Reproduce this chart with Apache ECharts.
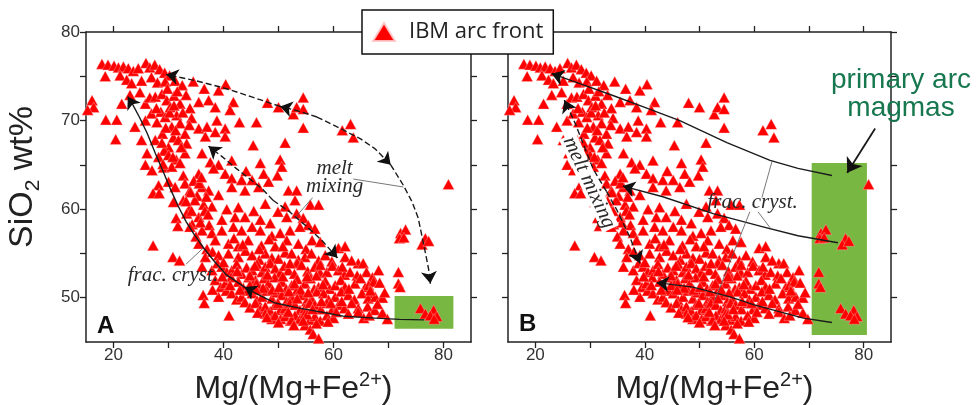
<!DOCTYPE html>
<html><head><meta charset="utf-8">
<script src="https://cdn.jsdelivr.net/npm/echarts@6/dist/echarts.min.js"></script>
<style>html,body{margin:0;padding:0;background:#fff}#c{width:976px;height:405px}</style>
</head><body><div id="c"></div>
<script>
const seriesName = 'IBM arc front';
const xAxisTitle = '{a|Mg/(Mg+Fe}{p|2+}{a|)}';
const yAxisTitle = '{a|SiO}{s|2}{a| wt%}';
const xTicks = [20, 30, 40, 50, 60, 70, 80];
const xTickLabels = [20, 40, 60, 80];
const yTicks = [50, 55, 60, 65, 70, 75, 80];
const yTickLabels = [50, 60, 70, 80];

// [Mg/(Mg+Fe2+), SiO2 wt%]
const ibmArcFront = [
[17.9,76.4],[19.0,76.3],[20.1,76.2],[20.9,76.0],[21.8,76.1],[22.7,75.9],[23.6,75.6],[24.5,75.9],[25.9,76.5],[26.6,76.0],[27.5,76.3],[28.4,75.8],[29.3,75.4],[30.2,75.1],
[18.5,75.0],[21.2,75.1],[22.4,74.6],[23.3,74.2],[25.1,74.5],[26.9,74.9],[28.0,74.3],[29.4,74.4],[31.2,74.5],[32.5,74.0],[34.5,74.4],
[16.1,72.3],[16.4,71.5],[15.3,71.2],[21.5,71.9],[23.0,72.9],[24.8,73.2],[25.8,71.9],[26.6,72.6],[27.6,72.7],[28.8,73.0],[29.7,72.3],[30.3,71.5],[31.0,72.8],[32.1,71.9],[33.2,72.9],[33.9,71.4],[35.5,72.1],[37.3,72.3],[39.1,73.4],[40.4,74.1],[41.8,72.1],[38.5,71.5],[36.5,73.6],
[18.6,70.1],[20.6,70.1],[20.4,67.9],[23.9,69.3],[25.8,70.0],[26.9,70.8],[27.9,69.8],[28.6,71.0],[29.4,70.4],[30.6,69.3],[31.5,70.6],[32.1,69.7],[33.0,68.5],[34.2,70.3],[35.5,69.1],[37.0,69.3],[38.8,70.0],[40.3,69.1],[42.9,69.8],[46.0,69.8],[50.0,71.5],[52.7,70.7],[54.5,72.6],[53.3,71.5],[54.5,71.3],[54.5,69.2],[63.1,69.6],[61.6,68.9],[63.6,68.1],[41.2,71.2],[48.0,72.0],
[25.1,67.8],[27.6,67.8],[28.9,68.5],[30.0,67.0],[30.9,68.1],[31.8,67.8],[33.3,67.4],[36.7,68.2],[38.5,68.7],[40.3,68.2],[45.4,67.2],[51.2,67.5],[29.2,66.6],
[26.1,66.3],[28.2,65.9],[30.0,66.1],[31.4,65.6],[33.0,66.3],[36.1,66.3],[37.6,65.3],[39.1,65.0],[41.5,65.5],[46.7,65.2],[50.3,65.6],[50.6,64.8],
[25.8,65.0],[27.0,64.4],[29.1,64.7],[30.6,64.8],[32.7,63.8],[35.5,64.0],[38.2,64.6],[40.3,64.0],[41.5,63.5],[43.3,63.3],[45.2,63.3],[47.3,64.0],[48.2,63.1],[49.8,63.8],[51.8,62.1],[53.3,62.1],[44.1,64.3],
[30.0,63.1],[28.2,62.7],[31.2,62.5],[33.0,62.9],[33.9,62.1],[34.6,63.2],[36.1,62.5],[37.3,62.1],[39.1,61.6],[41.5,62.5],[43.9,62.1],[46.4,62.5],[35.2,61.5],
[27.2,61.8],[28.3,61.8],[30.9,60.8],[32.7,61.0],[34.8,61.0],[36.4,60.5],[37.9,60.3],[42.7,60.2],[45.5,59.8],[47.6,60.6],[51.2,60.3],[53.0,61.0],[55.8,60.5],[57.3,60.5],[33.8,60.0],
[31.4,59.0],[33.3,59.5],[35.5,59.1],[37.4,58.2],[39.7,58.8],[42.1,59.1],[43.9,59.1],[46.7,58.8],[48.5,58.4],[51.5,59.1],[53.3,59.5],[54.5,59.0],[34.3,58.3],[36.6,59.8],[40.6,60.0],[49.9,59.7],[55.4,58.2],[31.7,58.1],
[33.9,58.0],[36.1,57.6],[37.9,57.3],[39.7,57.6],[41.8,58.0],[43.3,57.6],[45.2,58.0],[46.7,57.6],[48.8,57.0],[50.3,57.3],[52.1,57.6],[53.9,58.0],[56.6,57.8],[35.0,56.9],
[27.2,55.9],[35.5,56.1],[37.0,55.5],[38.5,56.5],[40.9,56.1],[42.7,55.8],[44.5,56.5],[46.9,55.9],[48.3,56.6],[49.4,55.8],[51.5,56.5],[53.6,56.1],[55.0,55.5],[56.1,56.5],[57.6,56.3],[60.9,55.6],[62.1,55.8],
[72.2,57.3],[73.1,57.7],[72.0,56.7],[72.8,56.8],[76.7,56.7],[76.1,56.0],[77.3,56.4],
[30.8,54.6],[32.0,54.2],[36.7,54.6],[38.0,55.2],[39.1,54.8],[40.9,55.0],[42.7,54.6],[44.0,55.3],[45.2,54.8],[46.5,54.3],[47.6,55.0],[48.8,54.5],[50.0,54.4],[51.2,55.1],[52.4,55.0],[53.6,54.3],[54.8,54.6],[56.0,55.0],[57.3,54.2],[58.5,54.8],[59.7,54.1],[62.1,54.6],[64.5,53.9],[65.4,53.9],[63.3,54.2],
[36.1,53.5],[37.9,53.1],[38.9,53.9],[39.7,53.5],[40.6,52.9],[41.5,53.1],[42.4,53.8],[43.3,52.7],[44.2,53.4],[45.2,53.1],[46.1,53.8],[47.0,52.9],[47.6,53.5],[48.5,53.9],[49.4,53.3],[50.3,52.8],[51.1,53.6],[51.8,53.1],[52.9,52.7],[53.4,53.9],[54.2,53.7],[55.3,53.0],[56.6,53.5],[57.6,52.8],[58.8,52.9],[59.8,53.6],[60.9,53.1],[62.0,52.6],[63.0,52.9],[64.3,52.5],[66.0,52.9],[67.1,52.3],[68.2,53.1],[71.8,52.9],
[38.5,52.0],[39.5,51.2],[40.3,51.6],[41.4,52.3],[42.7,51.8],[43.6,51.1],[44.6,52.3],[45.8,52.0],[46.6,51.2],[47.4,52.2],[48.2,51.6],[49.3,52.3],[50.6,51.8],[51.4,51.0],[52.4,51.4],[53.4,52.1],[54.8,51.6],[55.8,52.2],[56.5,51.0],[57.3,51.2],[58.5,51.9],[59.3,51.0],[60.3,51.4],[61.3,52.0],[62.1,51.2],[63.9,51.6],[65.8,51.2],[66.4,51.4],[67.3,51.8],[68.4,51.7],[71.8,51.6],[72.1,51.2],[67.0,50.5],
[36.3,50.3],[36.5,49.4],[39.1,50.1],[40.5,50.8],[41.5,50.5],[42.4,49.8],[43.3,50.1],[44.3,50.8],[45.2,50.5],[46.1,49.7],[47.0,50.1],[47.9,50.8],[48.8,49.9],[49.7,50.6],[50.6,50.3],[51.5,49.6],[52.4,50.1],[53.3,50.8],[54.2,50.3],[55.1,49.6],[56.0,49.9],[57.0,50.7],[58.2,50.5],[59.1,49.8],[60.3,50.1],[61.4,50.7],[62.7,50.3],[63.8,49.8],[65.2,50.5],[66.3,49.9],[67.6,50.1],[68.9,50.0],[69.3,50.6],
[43.9,49.5],[44.8,48.9],[45.8,49.4],[46.7,48.7],[47.6,49.0],[48.5,48.5],[49.4,49.2],[50.3,48.6],[51.2,48.8],[52.1,49.4],[53.0,49.2],[53.9,48.6],[54.8,48.8],[55.7,49.4],[56.6,49.2],[57.7,48.7],[58.8,49.4],[59.8,48.7],[60.9,49.2],[62.0,48.8],[63.3,49.4],[64.5,48.8],[66.2,49.0],[67.5,48.6],[68.9,48.3],
[41.0,48.0],[47.6,48.2],[48.8,47.6],[49.4,48.0],[50.4,47.6],[51.2,47.9],[52.2,47.4],[53.0,48.0],[53.9,47.6],[54.8,48.2],[55.7,47.5],[56.6,47.9],[57.6,47.4],[58.8,48.0],[60.0,47.7],[62.7,48.2],[64.5,48.4],[65.5,47.7],[66.5,48.0],[69.8,47.6],[52.4,47.5],
[54.8,46.9],[55.8,46.4],[56.3,45.9],[57.3,45.4],
[75.8,48.8],[76.7,48.2],[78.2,48.6],[77.6,48.0],[78.8,47.9],[78.3,47.6],
[80.9,62.8],
[29.8,73.6],[31.6,73.3],[30.2,70.9],[32.6,70.9],[29.5,69.2],[31.3,68.9],[32.3,67.0],[30.8,65.9],[32.1,65.2],[28.8,67.5],[31.0,71.7],[27.8,71.4],[29.0,65.1],[33.8,69.5],
[34.0,61.9],[35.6,62.9],[36.9,61.4],[34.2,59.8],[35.8,58.5],[37.2,59.4],[36.0,63.6],[33.2,60.9],
[44.8,52.5],[46.0,51.6],[47.2,51.1],[48.9,50.9],[50.1,51.2],[51.9,50.7],[52.9,51.6],[54.0,50.9],[55.4,50.6],[56.9,52.5],[44.8,51.4],[43.0,50.9],[45.9,50.9],[49.9,49.4],[51.8,48.4],[53.4,49.9],[55.2,48.1],[56.2,48.7],[57.8,49.6],[59.5,49.4],[61.5,49.6],[62.8,51.0],[58.1,51.5],[46.2,48.3],[47.9,47.8],[50.0,47.2],[52.8,46.9],[54.5,47.4],[56.9,47.1],[59.0,47.3],[60.5,48.4],[39.8,52.4],[41.2,51.4],[38.0,50.9],[42.5,53.0],[45.7,53.6],[48.0,52.6],[50.8,52.4],[52.1,53.9],[55.2,52.4],[57.6,53.7],[61.6,53.5],[64.9,52.2],[66.7,50.8],[68.0,49.3],[46.5,55.5],[50.8,55.8],[43.5,56.0],[40.0,54.0],[41.9,56.7]
];

// green "primary arc magma" fields [xMin, yMin, xMax, yMax]
const primaryFieldA = [71.1, 46.5, 81.8, 50.2];
const primaryFieldB = [70.5, 45.8, 80.6, 65.2];

// panel A annotation paths (data coords)
const fracCrystA = [
  [[76.5,47.5],[72,47.55],[67.6,47.7],[62,47.9],[58.5,48.3],[54,48.8],[49.4,49.4],[46.5,50.3],[43.8,51.2]],
  [[43.8,51.2],[40.5,52.6],[38.2,54.2],[36.3,55.7],[34.6,57.2],[33.2,58.6],[31.8,60.3],[30.4,62.2],[29.2,64.0],[27.6,66.3],[26.1,68.6],[24.7,70.4],[23.5,71.8],[22.6,72.7]]
];
const meltMixingA = [
  [[57,70.4],[53.5,71.1],[50.3,71.6]],
  [[50.3,71.6],[45,72.7],[40,73.7],[35,74.5],[29.6,75.2]],
  [[57,70.4],[61.6,69.0],[65,67.9],[67.6,66.8],[70.4,65.0]],
  [[70.4,65.0],[72.7,62.7],[74.3,60.8],[75.4,59.0],[76.7,55.1],[77.3,53.2],[77.6,51.6]],
  [[49,61],[47.2,62.2],[44.8,63.4],[42.3,64.6],[39.8,65.9],[37.3,67.1]],
  [[49,61],[52,59.7],[55.4,57.9],[58,56.4],[60.7,54.5]]
];
const leadersA = [
  [[63.6,63.4],[72.7,62.5]],
  [[56.2,61.3],[53.1,59.1]],
  [[33.2,53.8],[36.3,55.6]]
];
// panel B annotation paths
const fracCrystB = [
  [[74.2,63.8],[68,64.6],[62.9,65.5],[55,67.5],[46.4,70.0],[40,71.5],[34.3,72.8],[28,74.2],[23.0,75.3]],
  [[75.3,56.2],[68,57.0],[61.6,58.0],[52.5,59.5],[43.3,61.4],[36.0,62.6]],
  [[74.2,47.2],[69,47.7],[64.7,48.4],[60,49.2],[55.6,50.1],[48.8,51.2],[42.2,51.7]]
];
const meltMixingB = [
  [[33,62],[30.5,64.6],[28.8,67.3],[27.2,69.8],[25.3,72.3]],
  [[33,62],[34.9,59.9],[37.3,56.8],[39.1,53.9]]
];
const leadersB = [
  [[63.3,65.5],[61.4,61.3]],
  [[60.7,59.7],[62.9,57.9]],
  [[59.2,59.7],[52.8,49.7]]
];
const primaryArrowB = [[[82.1,69.1],[77.0,64.1]]];

const labelsA = [
  {text:'melt\nmixing', at:[60.2,63.6], rot:0, bg:false},
  {text:'frac. cryst.', at:[30.8,52.55], rot:0, bg:false}
];
const labelsB = [
  {text:'frac. cryst.', at:[59.7,60.7], rot:0, bg:false},
  {text:'melt mixing', at:[29.8,63.0], rot:-65, bg:true}
];

const AX = '#222';
function xAx(grid, pos, showLabel, showName) {
  return {
    type:'value', gridIndex:grid, position:pos, min:15, max:85,
    axisLine:{show:true, onZero:false, lineStyle:{color:AX, width:1.5}},
    axisTick:{show:true, length:6, customValues:xTicks, lineStyle:{color:AX, width:1.3}},
    axisLabel:{show:showLabel, customValues:xTickLabels, fontSize:17, color:'#333', fontFamily:'Liberation Sans', margin:5},
    splitLine:{show:false},
    name: showName ? xAxisTitle : '', nameLocation:'middle', nameGap:24,
    nameTextStyle:{padding:[0,0,0,30], rich:{
      a:{fontSize:32, fontFamily:'Liberation Sans', color:'#222', lineHeight:40, verticalAlign:'middle'},
      p:{fontSize:20, fontFamily:'Liberation Sans', color:'#222', lineHeight:20, verticalAlign:'top', padding:[2,0,0,0]}
    }}
  };
}
function yAx(grid, pos, showLabel, showName) {
  return {
    type:'value', gridIndex:grid, position:pos, min:45, max:80,
    axisLine:{show:true, onZero:false, lineStyle:{color:AX, width:1.5}},
    axisTick:{show:true, length:6, customValues:yTicks, lineStyle:{color:AX, width:1.3}},
    axisLabel:{show:showLabel, customValues:yTickLabels, fontSize:17, color:'#333', fontFamily:'Liberation Sans', margin:6},
    splitLine:{show:false},
    name: showName ? yAxisTitle : '', nameLocation:'middle', nameRotate:90, nameGap:42,
    nameTextStyle:{padding:[0,0,0,20], rich:{
      a:{fontSize:34, fontFamily:'Liberation Sans', color:'#222', lineHeight:42, verticalAlign:'middle'},
      s:{fontSize:21, fontFamily:'Liberation Sans', color:'#222', lineHeight:21, verticalAlign:'bottom'}
    }}
  };
}
function pathSeries(xi, yi, paths, opts) {
  return {
    type:'lines', coordinateSystem:'cartesian2d', xAxisIndex:xi, yAxisIndex:yi,
    polyline:true, silent:true, z:6,
    lineStyle:{color:opts.color || '#1b1b1b', width:opts.width || 1.4, type:opts.dashed ? [6,3] : 'solid', opacity:1},
    data: paths.map(c => ({coords:c}))
  };
}
// arrowhead at the end of each path, drawn on a tiny final piece of its last segment
function headSeries(xi, yi, paths, size) {
  return {
    type:'lines', coordinateSystem:'cartesian2d', xAxisIndex:xi, yAxisIndex:yi,
    polyline:false, silent:true, z:7,
    symbol:['none','arrow'], symbolSize:size || 12,
    lineStyle:{color:'#111', width:1.2, opacity:1, curveness:0},
    data: paths.map(c => {
      const e = c[c.length-1], s = c[c.length-2];
      const t = 0.08;
      return {coords:[[e[0]-(e[0]-s[0])*t, e[1]-(e[1]-s[1])*t], e]};
    })
  };
}
function fieldSeries(xi, yi, box) {
  return {
    type:'custom', xAxisIndex:xi, yAxisIndex:yi, silent:true, z:1,
    data:[box], dimensions:['x1','y1','x2','y2'], encode:{x:[0,2], y:[1,3]},
    renderItem:(params, api) => {
      const p1 = api.coord([api.value(0), api.value(3)]);
      const p2 = api.coord([api.value(2), api.value(1)]);
      return {type:'rect', shape:{x:p1[0], y:p1[1], width:p2[0]-p1[0], height:p2[1]-p1[1]}, style:{fill:'#79b743'}};
    }
  };
}
function scatterSeries(xi, yi) {
  return {
    name:seriesName, type:'scatter', xAxisIndex:xi, yAxisIndex:yi, z:3,
    symbol:'triangle', symbolSize:[11.5,10.5],
    itemStyle:{color:'#ff0000', borderColor:'rgba(255,200,200,0.9)', borderWidth:0.4, opacity:1},
    data: ibmArcFront
  };
}

const chart = echarts.init(document.getElementById('c'), null, {renderer:'canvas'});
chart.setOption({
  backgroundColor:'#fff',
  animation:false,
  grid:[
    {left:86, top:32, width:385, height:310, outerBoundsMode:'none'},
    {left:508, top:32, width:383, height:310, outerBoundsMode:'none'}
  ],
  xAxis:[ xAx(0,'bottom',true,true), xAx(0,'top',false,false), xAx(1,'bottom',true,true), xAx(1,'top',false,false) ],
  yAxis:[ yAx(0,'left',true,true), yAx(0,'right',false,false), yAx(1,'left',false,false), yAx(1,'right',false,false) ],
  legend:{
    left:362, top:10, data:[seriesName], icon:'triangle', itemWidth:22, itemHeight:18,
    padding:[11,10,11,10], backgroundColor:'#fff', borderColor:'#111', borderWidth:1.5, borderRadius:0,
    selectedMode:false, z:10,
    textStyle:{fontFamily:'Open Sans', fontSize:22, color:'#222', padding:[0,0,0,9]}
  },
  series:[
    fieldSeries(0,0,primaryFieldA),
    fieldSeries(2,2,primaryFieldB),
    scatterSeries(0,0),
    scatterSeries(2,2),
    pathSeries(0,0,fracCrystA,{}),
    headSeries(0,0,fracCrystA),
    pathSeries(0,0,meltMixingA,{dashed:true}),
    headSeries(0,0,meltMixingA),
    pathSeries(0,0,leadersA,{width:0.8, color:'#555'}),
    pathSeries(2,2,fracCrystB,{}),
    headSeries(2,2,fracCrystB),
    pathSeries(2,2,meltMixingB,{dashed:true}),
    headSeries(2,2,meltMixingB),
    pathSeries(2,2,leadersB,{width:0.8, color:'#555'}),
    pathSeries(2,2,primaryArrowB,{width:1.8}),
    headSeries(2,2,primaryArrowB,14)
  ]
});

function annot(gridIndex, list) {
  return list.map(l => {
    const p = chart.convertToPixel({gridIndex:gridIndex}, l.at);
    const style = {text:l.text, fill:'#2a2a2a', font:'italic 21px "Liberation Serif", "DejaVu Serif", serif',
        textAlign:'center', textVerticalAlign:'middle', lineHeight:18};
    if (l.bg) { style.backgroundColor = '#fff'; style.padding = [0,2]; }
    return {type:'text', x:p[0], y:p[1], rotation:l.rot*Math.PI/180, z:20, silent:true, style:style};
  });
}
chart.setOption({
  graphic: [
    ...annot(0, labelsA),
    ...annot(1, labelsB),
    {type:'text', x:97, y:326, z:20, silent:true, style:{text:'A', fill:'#111', font:'bold 24px "Liberation Sans", Arial, sans-serif', textAlign:'left', textVerticalAlign:'middle'}},
    {type:'text', x:519, y:324, z:20, silent:true, style:{text:'B', fill:'#111', font:'bold 24px "Liberation Sans", Arial, sans-serif', textAlign:'left', textVerticalAlign:'middle'}},
    {type:'text', x:901, y:94, z:20, silent:true, style:{text:'primary arc\nmagmas', fill:'#17784f', font:'28px "Liberation Sans", Arial, sans-serif', textAlign:'center', textVerticalAlign:'middle', lineHeight:28}}
  ]
});
</script>
</body></html>
